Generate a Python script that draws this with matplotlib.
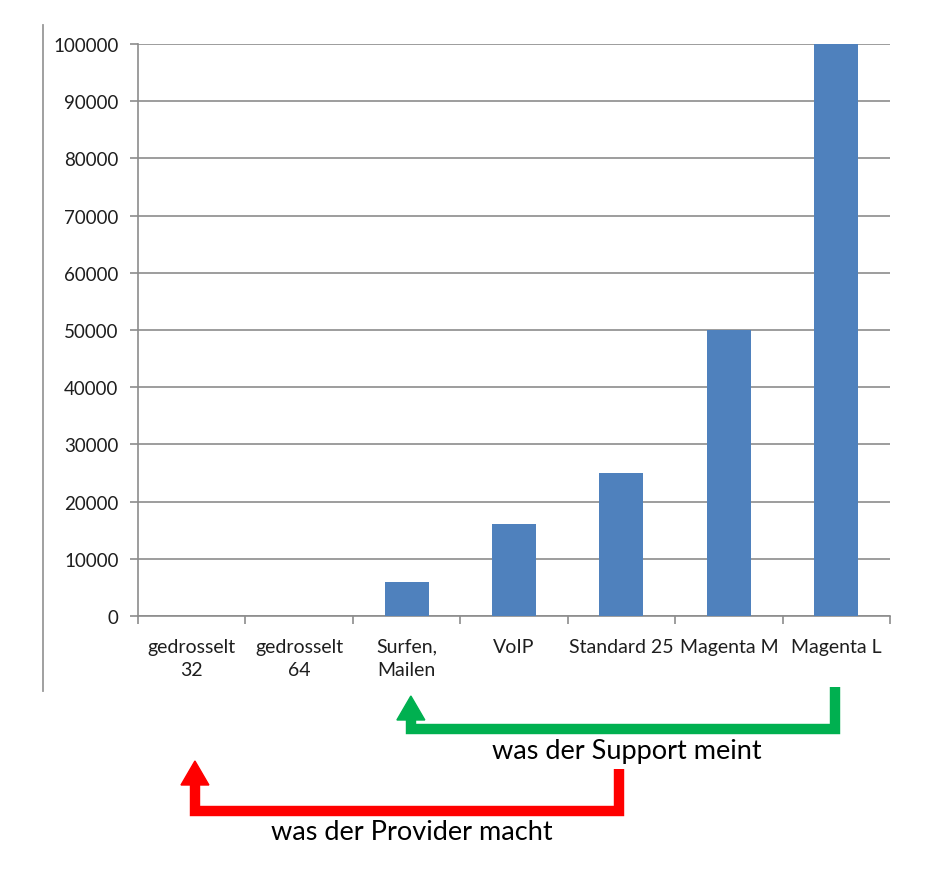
import numpy as np
import matplotlib
matplotlib.use('Agg')
import matplotlib.pyplot as plt
from matplotlib.lines import Line2D
from matplotlib.patches import Polygon
from matplotlib.transforms import blended_transform_factory

plt.rcParams['font.family'] = ['Lato', 'DejaVu Sans']

tarife = ['gedrosselt\n32', 'gedrosselt\n64', 'Surfen,\nMailen', 'VoIP',
          'Standard 25', 'Magenta M', 'Magenta L']
speed = [32, 64, 6000, 16000, 25000, 50000, 100000]
yticks = np.arange(0, 100001, 10000)

bar_color = '#4F81BD'
grid_color = '#8C8C8C'
text_color = '#1E1E1E'

fig = plt.figure(figsize=(9.36, 8.87), dpi=100)
W, H = 936, 887
ax = fig.add_axes([138 / W, 1 - 617 / H, (890 - 138) / W, (617 - 45) / H])

ind = np.arange(len(tarife))
ax.bar(ind, speed, 0.41, color=bar_color, zorder=3)
ax.set_xlim(-0.5, len(tarife) - 0.5)
ax.set_ylim(0, 100000)
ax.set_yticks(yticks)
ax.set_yticklabels([str(v) for v in yticks])
ax.yaxis.grid(True, color=grid_color, linewidth=1.2, zorder=0)

# category boundaries as ticks
ax.set_xticks(np.arange(-0.5, len(tarife), 1.0))
ax.set_xticklabels([])
ax.set_xticks(ind, minor=True)
ax.set_xticklabels(tarife, minor=True, fontsize=14, color=text_color,
                   linespacing=1.45, va='top')
ax.tick_params(axis='x', which='minor', length=0, pad=15.5)
ax.tick_params(axis='x', which='major', length=6, color=grid_color, width=1.2)
ax.tick_params(axis='y', length=6, color=grid_color, width=1.2, pad=8,
               labelsize=13.5, labelcolor=text_color)

for s in ['top', 'right']:
    ax.spines[s].set_visible(False)
for s in ['left', 'bottom']:
    ax.spines[s].set_color(grid_color)
    ax.spines[s].set_linewidth(1.2)

# left frame line
fig.add_artist(Line2D([43 / W, 43 / W], [1 - 26 / H, 1 - 692 / H],
                      color='#999999', linewidth=1.3))

trans = blended_transform_factory(ax.transData, fig.transFigure)


def bracket_arrow(x_from, x_to, y_top, y_base, y_tip, color):
    yt = 1 - y_top / H
    yb = 1 - y_base / H
    ytip = 1 - y_tip / H
    yhead = 1 - (y_tip + 24) / H
    ax.add_line(Line2D([x_from, x_from, x_to, x_to], [yt, yb, yb, yhead],
                       color=color, linewidth=7.5, transform=trans,
                       clip_on=False, solid_joinstyle='miter',
                       solid_capstyle='butt'))
    hw = 0.13
    ax.add_patch(Polygon([[x_to - hw, yhead], [x_to + hw, yhead], [x_to, ytip]],
                         closed=True, color=color, transform=trans,
                         clip_on=False))


bracket_arrow(5.99, 2.04, 688, 730, 697, '#00B050')
bracket_arrow(3.98, 0.03, 770, 812, 762, '#FF0000')

fig.text(627 / W, 1 - 752 / H, 'was der Support meint', ha='center',
         va='center', fontsize=19.5, color='black')
fig.text(412 / W, 1 - 833 / H, 'was der Provider macht', ha='center',
         va='center', fontsize=19.5, color='black')

plt.savefig('out.png', dpi=100)
